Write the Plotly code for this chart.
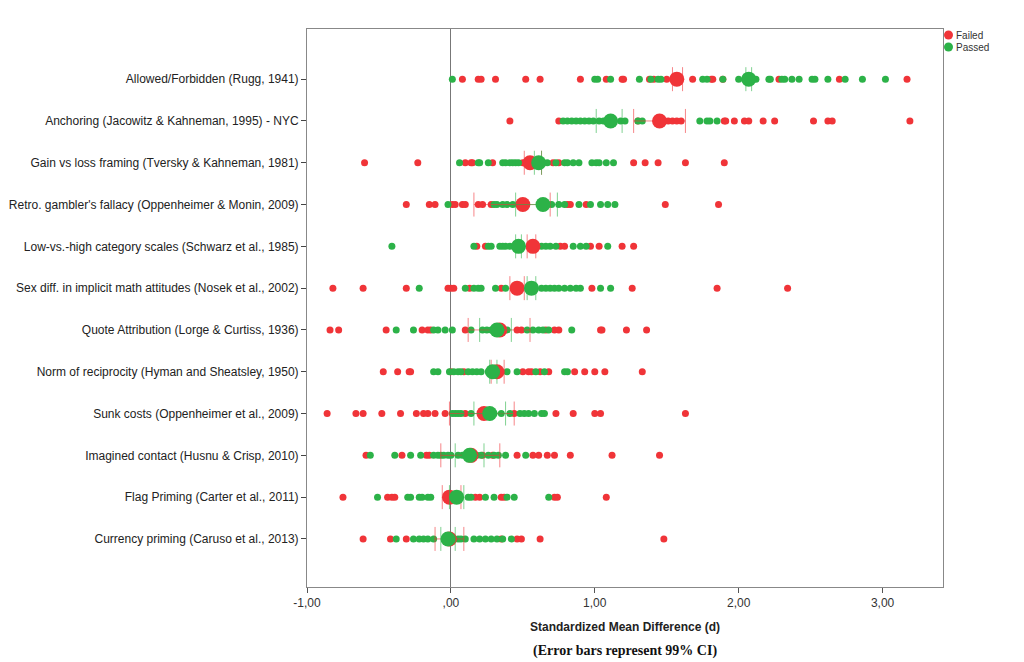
import plotly.graph_objects as go

# studies, top to bottom
studies = [
    "Allowed/Forbidden (Rugg, 1941)",
    "Anchoring (Jacowitz & Kahneman, 1995) - NYC",
    "Gain vs loss framing (Tversky & Kahneman, 1981)",
    "Retro. gambler's fallacy (Oppenheimer & Monin, 2009)",
    "Low-vs.-high category scales (Schwarz et al., 1985)",
    "Sex diff. in implicit math attitudes (Nosek et al., 2002)",
    "Quote Attribution (Lorge & Curtiss, 1936)",
    "Norm of reciprocity (Hyman and Sheatsley, 1950)",
    "Sunk costs (Oppenheimer et al., 2009)",
    "Imagined contact (Husnu & Crisp, 2010)",
    "Flag Priming (Carter et al., 2011)",
    "Currency priming (Caruso et al., 2013)",
]

# per-sample effect sizes, failed attention check
failed_d = [
    [0.08, 0.19, 0.21, 0.31, 0.52, 0.62, 0.90, 1.08, 1.19, 1.20, 1.38, 1.41, 1.50, 1.68, 1.81, 1.82, 1.89, 2.28, 2.70, 3.17],
    [0.41, 0.75, 1.30, 1.51, 1.54, 1.57, 1.60, 1.90, 1.91, 1.97, 2.04, 2.07, 2.17, 2.25, 2.52, 2.62, 2.65, 3.19],
    [-0.60, -0.23, 0.10, 0.14, 0.15, 0.29, 0.50, 0.71, 0.75, 1.27, 1.35, 1.44, 1.63, 1.90],
    [-0.31, -0.15, -0.11, 0.01, 0.03, 0.08, 0.10, 0.19, 0.22, 0.28, 0.81, 0.83, 0.94, 1.49, 1.86],
    [0.18, 0.24, 0.76, 0.79, 0.97, 1.03, 1.19, 1.27],
    [-0.82, -0.61, -0.31, -0.02, 0.00, 0.02, 0.13, 0.35, 0.98, 1.26, 1.85, 2.34],
    [-0.84, -0.78, -0.45, -0.20, -0.16, -0.14, 0.10, 0.46, 0.49, 0.66, 0.72, 0.75, 1.04, 1.05, 1.22, 1.36],
    [-0.47, -0.37, -0.29, -0.28, 0.00, 0.09, 0.50, 0.54, 0.56, 0.62, 0.68, 0.86, 0.93, 1.00, 1.07, 1.33],
    [-0.86, -0.66, -0.61, -0.48, -0.35, -0.24, -0.19, -0.16, -0.11, -0.04, 0.10, 0.26, 0.44, 0.73, 0.85, 1.00, 1.04, 1.63],
    [-0.59, -0.34, -0.17, -0.15, 0.22, 0.29, 0.46, 0.57, 0.61, 0.67, 0.72, 0.83, 1.12, 1.45],
    [-0.75, -0.44, -0.41, -0.39, -0.03, 0.17, 0.20, 0.35, 0.37, 0.72, 0.74, 1.08],
    [-0.61, -0.42, -0.31, 0.35, 0.46, 0.49, 0.62, 1.48],
]

# per-sample effect sizes, passed attention check
passed_d = [
    [0.01, 1.00, 1.02, 1.11, 1.31, 1.39, 1.44, 1.46, 1.75, 1.78, 1.89, 2.00, 2.12, 2.21, 2.22, 2.30, 2.32, 2.37, 2.42, 2.51, 2.53, 2.62, 2.74, 2.86, 3.02],
    [0.78, 0.81, 0.84, 0.87, 0.90, 0.93, 0.96, 0.99, 1.03, 1.06, 1.18, 1.21, 1.30, 1.33, 1.73, 1.78, 1.80, 1.85],
    [0.06, 0.19, 0.20, 0.26, 0.36, 0.38, 0.41, 0.43, 0.45, 0.47, 0.67, 0.73, 0.79, 0.81, 0.85, 0.89, 0.98, 1.01, 1.03, 1.08, 1.13],
    [-0.02, 0.30, 0.32, 0.36, 0.39, 0.43, 0.67, 0.70, 0.75, 0.79, 0.89, 0.97, 1.04, 1.09, 1.14],
    [-0.41, 0.16, 0.26, 0.28, 0.34, 0.36, 0.38, 0.41, 0.63, 0.66, 0.69, 0.73, 0.85, 0.90, 0.94, 1.09],
    [-0.22, 0.10, 0.16, 0.19, 0.21, 0.31, 0.38, 0.63, 0.66, 0.69, 0.72, 0.75, 0.79, 0.83, 0.87, 0.90, 1.04, 1.11],
    [-0.38, -0.26, -0.12, -0.09, -0.04, 0.01, 0.14, 0.22, 0.25, 0.28, 0.30, 0.39, 0.53, 0.57, 0.61, 0.64, 0.68, 0.84],
    [-0.12, -0.09, -0.01, 0.02, 0.05, 0.07, 0.12, 0.15, 0.18, 0.21, 0.26, 0.39, 0.46, 0.59, 0.65, 0.79, 0.81],
    [0.01, 0.03, 0.05, 0.07, 0.14, 0.30, 0.35, 0.41, 0.48, 0.51, 0.54, 0.58, 0.63, 0.65],
    [-0.56, -0.39, -0.28, -0.21, -0.12, -0.09, -0.07, -0.05, -0.02, 0.00, 0.05, 0.08, 0.18, 0.21, 0.26, 0.30, 0.33, 0.38, 0.52],
    [-0.51, -0.30, -0.28, -0.22, -0.20, -0.16, -0.14, 0.12, 0.14, 0.24, 0.30, 0.39, 0.44, 0.68],
    [-0.38, -0.26, -0.22, -0.19, -0.16, -0.12, 0.05, 0.07, 0.10, 0.16, 0.20, 0.24, 0.28, 0.32, 0.36, 0.42],
]

# pooled means and 99% CIs
failed_mean = [1.57, 1.45, 0.55, 0.50, 0.57, 0.46, 0.34, 0.32, 0.23, 0.14, -0.01, -0.01]
failed_lo = [1.54, 1.27, 0.51, 0.16, 0.53, 0.41, 0.12, 0.28, -0.01, -0.07, -0.06, -0.11]
failed_hi = [1.61, 1.63, 0.63, 0.69, 0.59, 0.51, 0.55, 0.37, 0.44, 0.34, 0.07, 0.09]

passed_mean = [2.07, 1.11, 0.61, 0.64, 0.47, 0.56, 0.32, 0.29, 0.27, 0.13, 0.04, -0.02]
passed_lo = [2.05, 1.01, 0.58, 0.45, 0.45, 0.53, 0.20, 0.27, 0.16, 0.03, -0.01, -0.07]
passed_hi = [2.09, 1.19, 0.63, 0.74, 0.49, 0.59, 0.42, 0.32, 0.38, 0.23, 0.09, 0.03]

x_ticks = [-1, 0, 1, 2, 3]
x_ticklabels = ["-1,00", ",00", "1,00", "2,00", "3,00"]
groups = ["Failed", "Passed"]

red = 'rgb(240, 52, 56)'
green = 'rgb(44, 178, 72)'
red_bar = 'rgba(240, 52, 56, 0.6)'
green_bar = 'rgba(44, 178, 72, 0.6)'

n = len(studies)
ypos = [n - i for i in range(n)]


def flat(groups):
    xs, ys = [], []
    for i, g in enumerate(groups):
        xs += g
        ys += [ypos[i]] * len(g)
    return xs, ys


fx, fy = flat(failed_d)
px, py = flat(passed_d)

fig = go.Figure()
fig.add_trace(go.Scatter(x=fx, y=fy, mode='markers', name='Failed',
                         marker=dict(color=red, size=7), hoverinfo='x'))
fig.add_trace(go.Scatter(x=px, y=py, mode='markers', name='Passed',
                         marker=dict(color=green, size=7), hoverinfo='x'))

fig.add_trace(go.Scatter(
    x=failed_mean, y=ypos, mode='markers', showlegend=False,
    marker=dict(color=red, size=15),
    error_x=dict(type='data', symmetric=False,
                 array=[h - m for h, m in zip(failed_hi, failed_mean)],
                 arrayminus=[m - l for m, l in zip(failed_mean, failed_lo)],
                 color=red_bar, thickness=1, width=12)))
fig.add_trace(go.Scatter(
    x=passed_mean, y=ypos, mode='markers', showlegend=False,
    marker=dict(color=green, size=15),
    error_x=dict(type='data', symmetric=False,
                 array=[h - m for h, m in zip(passed_hi, passed_mean)],
                 arrayminus=[m - l for m, l in zip(passed_mean, passed_lo)],
                 color=green_bar, thickness=1, width=12)))

# small legend at the top right, outside the frame
legend_shapes = []
legend_notes = []
for k, (name, col) in enumerate(zip(groups, [red, green])):
    cy = -6 - 12 * k
    legend_shapes.append(dict(type='circle', xref='paper', yref='paper',
                              xsizemode='pixel', ysizemode='pixel',
                              xanchor=1.0, yanchor=1.0,
                              x0=1, x1=10, y0=cy - 4.5, y1=cy + 4.5,
                              fillcolor=col, line=dict(width=0)))
    legend_notes.append(dict(text=name, xref='paper', yref='paper', x=1.0, y=1.0,
                             xshift=11, yshift=cy, xanchor='left', yanchor='middle',
                             showarrow=False,
                             font=dict(family='Liberation Sans, Arial', size=10, color='#333')))

fig.update_layout(
    width=1016, height=654,
    margin=dict(l=299, r=81, t=21, b=75),
    paper_bgcolor='white', plot_bgcolor='white',
    showlegend=False,
    font=dict(family='Liberation Sans, Arial', size=12, color='#222'),
    shapes=legend_shapes,
    annotations=legend_notes + [
        dict(text='<b>Standardized Mean Difference (d)</b>', xref='paper', yref='paper',
             x=0.5, y=0, yshift=-40, yanchor='middle', showarrow=False,
             font=dict(family='Liberation Sans, Arial', size=12, color='#222')),
        dict(text='<b>(Error bars represent 99% CI)</b>', xref='paper', yref='paper',
             x=0.5, y=0, yshift=-64, yanchor='middle', showarrow=False,
             font=dict(family='Liberation Serif, Times New Roman', size=14, color='#111')),
    ],
)
fig.update_xaxes(range=[-1.0, 3.42], tickvals=x_ticks, ticktext=x_ticklabels,
                 ticks='outside', ticklen=5, tickcolor='#555', automargin=False,
                 showline=True, linecolor='#888', linewidth=1, mirror=True,
                 showgrid=False, zeroline=True, zerolinecolor='#777', zerolinewidth=1,
                 tickfont=dict(size=12, color='#333'))
fig.update_yaxes(range=[-0.15, 13.2], tickvals=ypos, ticktext=studies,
                 ticks='outside', ticklen=5, tickcolor='#444', automargin=False,
                 showline=True, linecolor='#888', linewidth=1, mirror=True,
                 showgrid=False, zeroline=False,
                 tickfont=dict(size=12, color='#222'))

fig.write_html("out.html")
